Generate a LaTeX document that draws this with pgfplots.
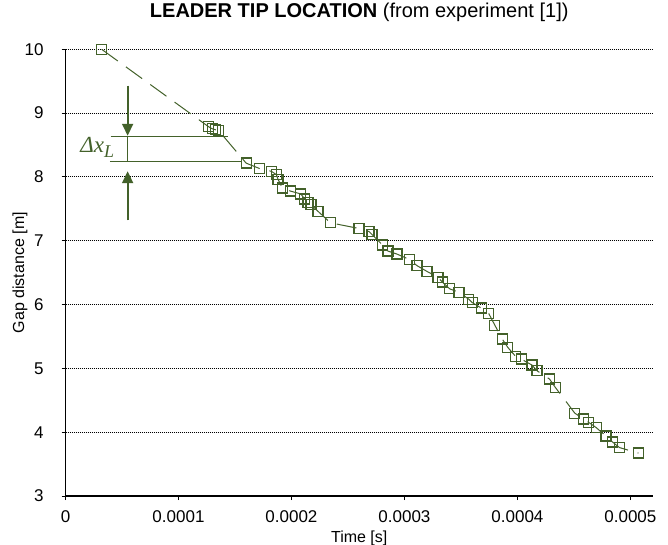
\documentclass[border=0pt]{standalone}
\usepackage{pgfplots}
\usepackage{pgfplotstable}
\pgfplotsset{compat=1.18}
\usepackage{fontspec}
\setmainfont{Liberation Sans}
\newfontfamily\serifit{Liberation Serif}
\usetikzlibrary{arrows.meta}
\definecolor{leafgreen}{RGB}{67,97,42}

% leader tip position
\pgfplotstableread{
t          y
0.0000320  10.00
0.0001263  8.791
0.0001298  8.755
0.0001328  8.739
0.0001357  8.723
0.0001599  8.216
0.0001720  8.130
0.0001823  8.087
0.0001867  8.036
0.0001882  7.958
0.0001920  7.828
0.0001991  7.778
0.0002082  7.734
0.0002118  7.653
0.0002147  7.603
0.0002173  7.567
0.0002235  7.461
0.0002345  7.281
0.0002598  7.192
0.0002686  7.145
0.0002713  7.098
0.0002805  6.934
0.0002854  6.838
0.0002934  6.791
0.0003042  6.708
0.0003112  6.609
0.0003199  6.520
0.0003296  6.427
0.0003335  6.353
0.0003400  6.247
0.0003482  6.192
0.0003570  6.083
0.0003600  6.031
0.0003680  5.945
0.0003746  5.861
0.0003800  5.677
0.0003866  5.458
0.0003915  5.328
0.0003986  5.184
0.0004034  5.145
0.0004129  5.052
0.0004173  4.963
0.0004284  4.833
0.0004335  4.703
0.0004508  4.298
0.0004586  4.208
0.0004629  4.156
0.0004697  4.072
0.0004785  3.938
0.0004843  3.844
0.0004903  3.759
0.0005071  3.672
}\tipdata

\begin{document}
\begin{tikzpicture}
\begin{axis}[
    scale only axis,
    width=293.75pt,
    height=223.35pt,
    xmin=0, xmax=0.00052,
    ymin=3, ymax=10,
    axis lines*=left,
    axis line style={black, line width=0.6pt},
    xtick={0,0.0001,0.0002,0.0003,0.0004,0.0005},
    ytick={3,4,5,6,7,8,9,10},
    scaled x ticks=false,
    /pgf/number format/assume math mode=true,
    xticklabel style={/pgf/number format/fixed, /pgf/number format/precision=4,
                      anchor=base, yshift=-11.4pt},
    yticklabel style={anchor=east, inner sep=0pt, xshift=-8.75pt},
    ticklabel style={font=\fontsize{8.5}{10}\selectfont},
    tick align=outside,
    major tick length=2pt,
    tick style={black, line width=0.5pt},
    ymajorgrids,
    grid style={black, line width=0.5pt, dash pattern=on 0.5pt off 0.5pt},
    font=\fontsize{8}{9.6}\selectfont,
    title={\textbf{LEADER TIP LOCATION} (from experiment [1])},
    title style={font=\fontsize{10}{12}\selectfont, at={(axis description cs:0.5,1.0824)},
                 anchor=center, yshift=-6pt},
    xlabel={Time [s]},
    xlabel style={at={(axis description cs:0.5,-0.1045)}, anchor=base},
    ylabel={Gap distance [m]},
    ylabel style={at={(axis description cs:-0.0774,0.5)}, anchor=center},
]
\addplot[leafgreen, line width=0.5pt, dash pattern=on 10pt off 5pt,
         mark=square, mark size=2.5pt,
         mark options={solid, line width=0.65pt, fill=none}]
    table[x=t, y=y] {\tipdata};

% Delta x_L annotation
\draw[leafgreen, line width=0.6pt] (axis cs:0.0000400,8.634) -- (axis cs:0.0001437,8.634);
\draw[leafgreen, line width=0.6pt] (axis cs:0.0000393,8.244) -- (axis cs:0.0001558,8.244);
\draw[leafgreen, line width=0.5pt] (axis cs:0.000055,8.634) -- (axis cs:0.000055,8.244);
\draw[leafgreen, line width=0.9pt, -{Triangle[length=6pt,width=5.5pt]}]
    (axis cs:0.000055,9.43) -- (axis cs:0.000055,8.645);
\draw[leafgreen, line width=0.9pt, -{Triangle[length=6pt,width=5.5pt]}]
    (axis cs:0.000055,7.32) -- (axis cs:0.000055,8.09);
\node[leafgreen, inner sep=0pt] at (axis cs:0.0000281,8.458)
    {\fontsize{11.5}{12}\serifit\itshape Δx\raisebox{-0.45ex}{\fontsize{9}{9}\selectfont L}};
\end{axis}
\pgfresetboundingbox
\path (-32.75pt,-24.5pt) rectangle (301.25pt,248pt);
\end{tikzpicture}
\end{document}
